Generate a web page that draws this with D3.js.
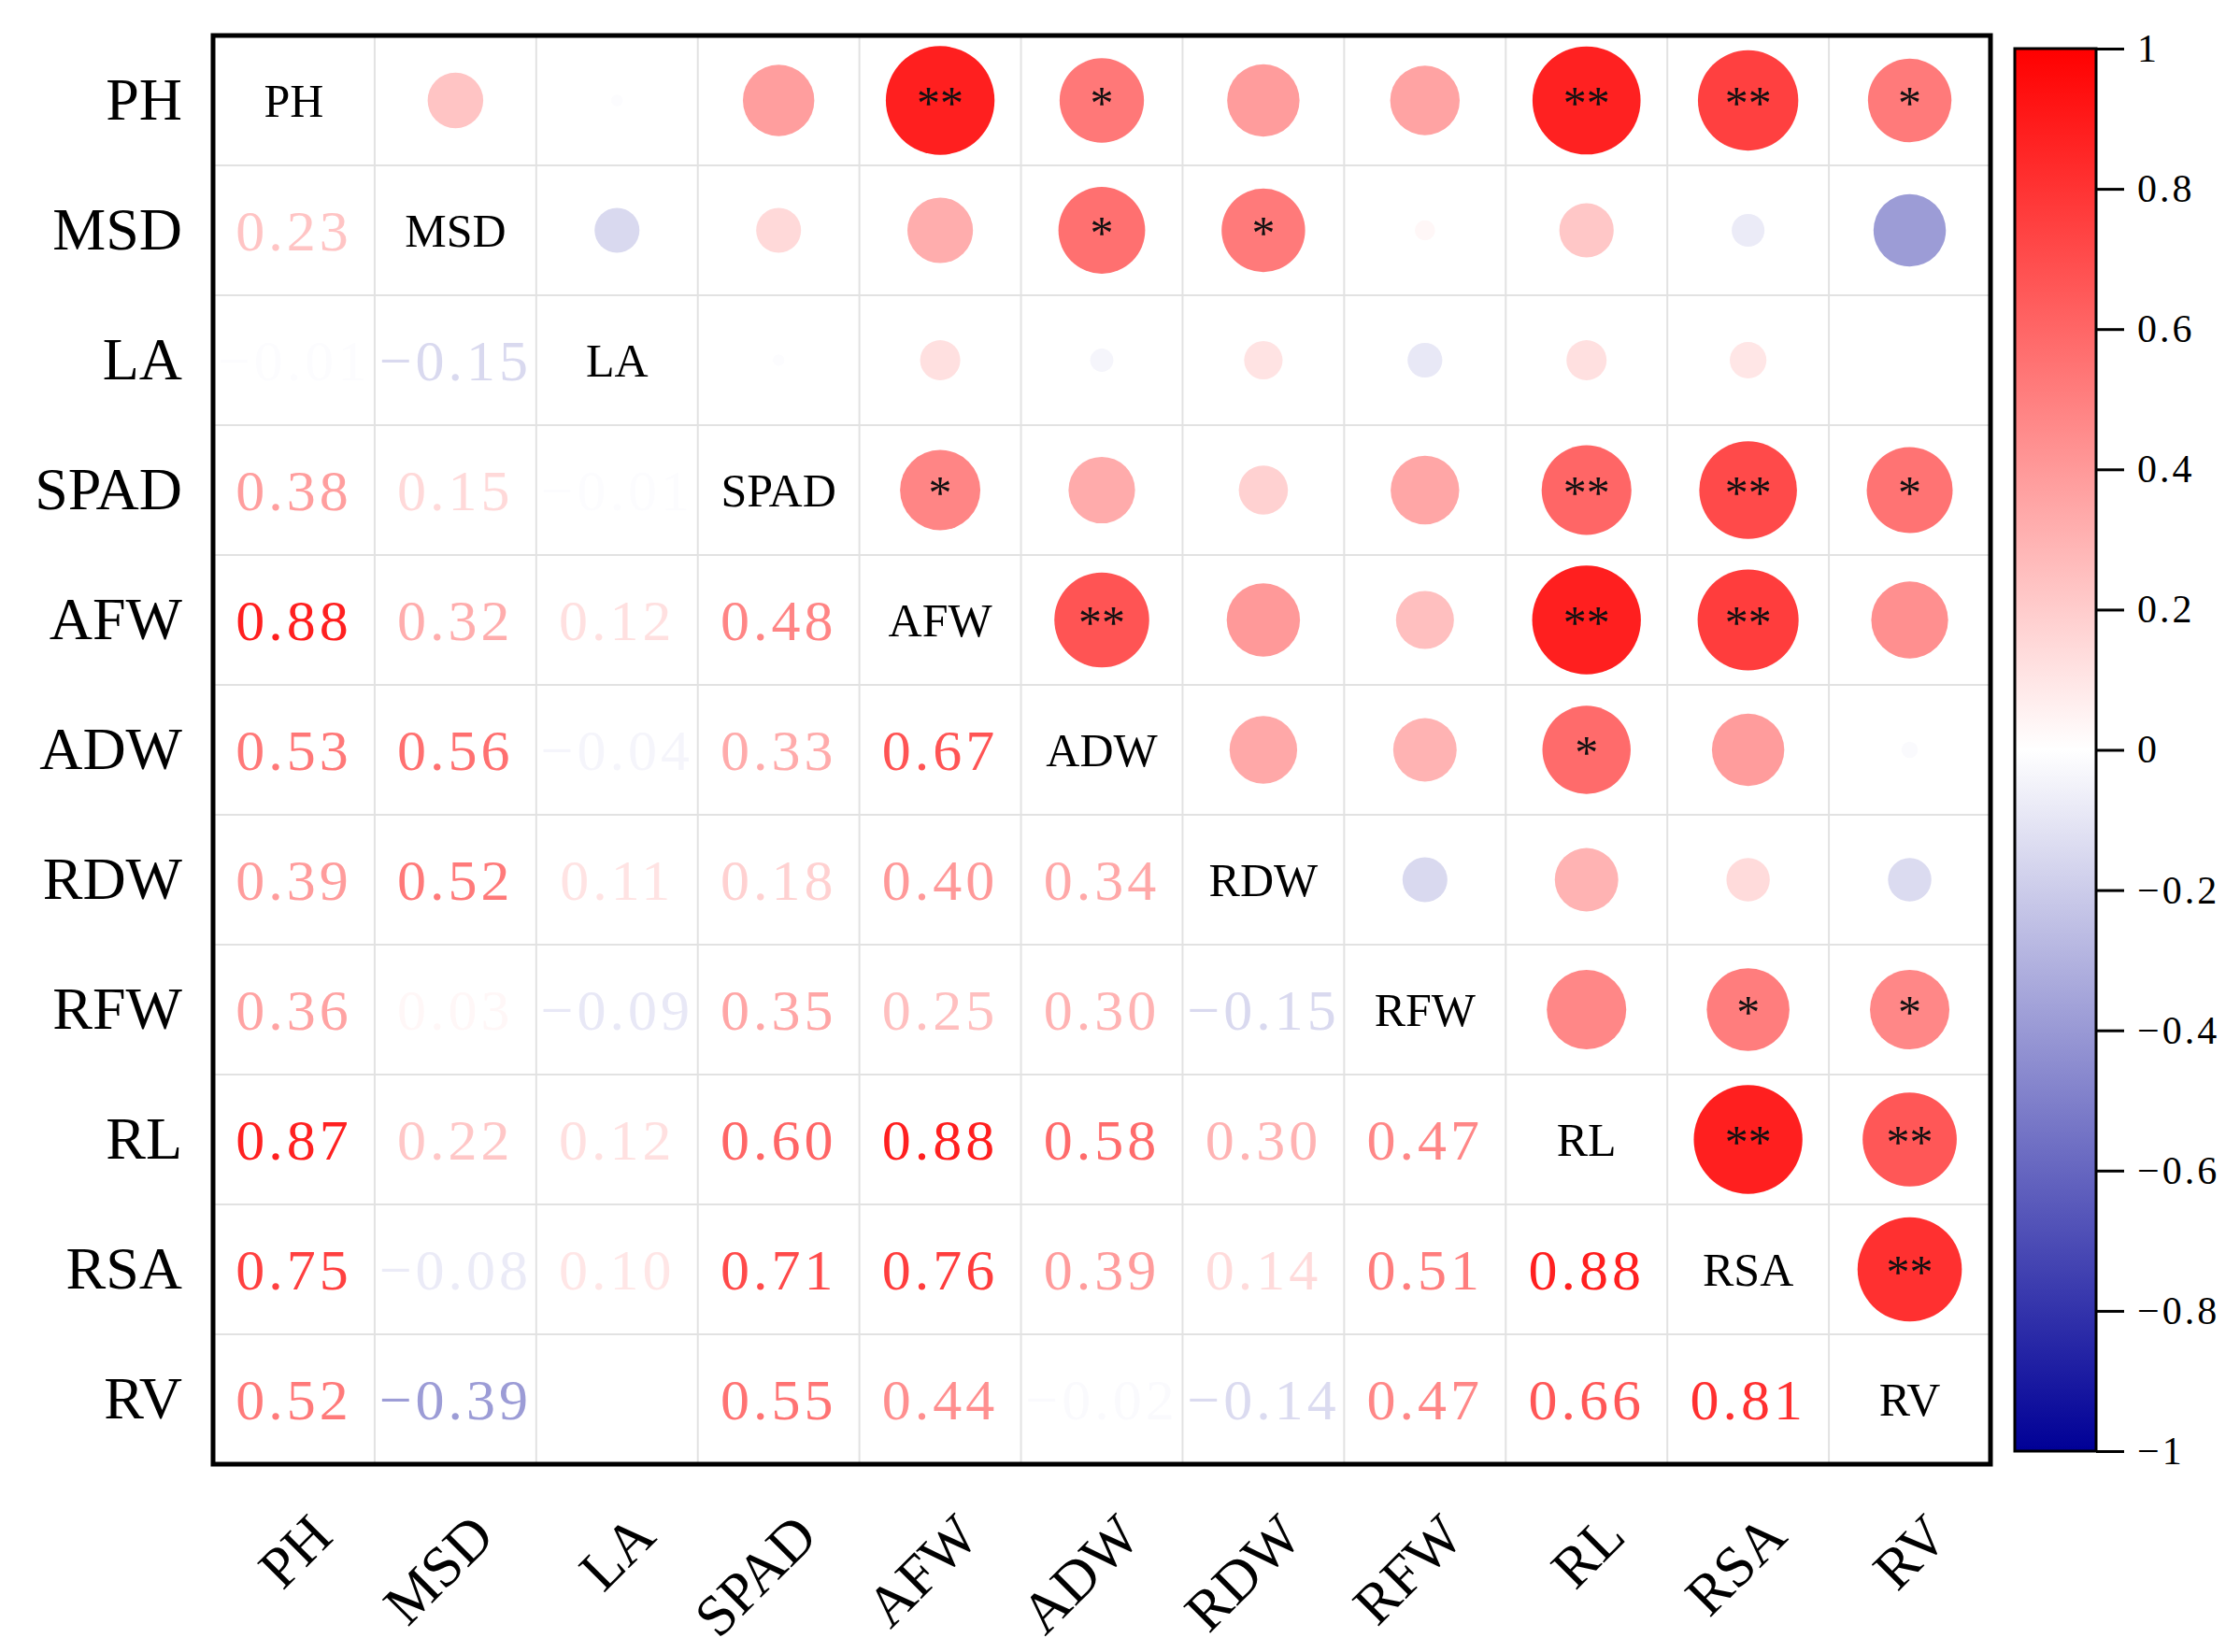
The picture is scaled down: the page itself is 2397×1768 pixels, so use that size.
<!DOCTYPE html>
<html>
<head>
<meta charset="utf-8">
<script src="https://cdn.jsdelivr.net/npm/d3@7"></script>
<style>
  body { margin: 0; background: #fff; }
  text { font-family: "Liberation Serif", "Times New Roman", serif; }
</style>
</head>
<body>
<div id="chart"></div>
<script>
// correlation matrix chart: circles in upper triangle, numbers in lower

var vars = ["PH", "MSD", "LA", "SPAD", "AFW", "ADW", "RDW", "RFW", "RL", "RSA", "RV"];

// lower triangle, row i holds r(i, j) for j < i
var corrRows = [
  [],
  [0.23],
  [-0.01, -0.15],
  [0.38, 0.15, -0.01],
  [0.88, 0.32, 0.12, 0.48],
  [0.53, 0.56, -0.04, 0.33, 0.67],
  [0.39, 0.52, 0.11, 0.18, 0.40, 0.34],
  [0.36, 0.03, -0.09, 0.35, 0.25, 0.30, -0.15],
  [0.87, 0.22, 0.12, 0.60, 0.88, 0.58, 0.30, 0.47],
  [0.75, -0.08, 0.10, 0.71, 0.76, 0.39, 0.14, 0.51, 0.88],
  [0.52, -0.39, 0.00, 0.55, 0.44, -0.02, -0.14, 0.47, 0.66, 0.81]
];

// significance marks shown on the circles
var sigPairs = [
  ["PH", "AFW", "**"], ["PH", "ADW", "*"], ["PH", "RL", "**"], ["PH", "RSA", "**"], ["PH", "RV", "*"],
  ["MSD", "ADW", "*"], ["MSD", "RDW", "*"],
  ["SPAD", "AFW", "*"], ["SPAD", "RL", "**"], ["SPAD", "RSA", "**"], ["SPAD", "RV", "*"],
  ["AFW", "ADW", "**"], ["AFW", "RL", "**"], ["AFW", "RSA", "**"],
  ["ADW", "RL", "*"],
  ["RFW", "RSA", "*"], ["RFW", "RV", "*"],
  ["RL", "RSA", "**"], ["RL", "RV", "**"],
  ["RSA", "RV", "**"]
];

var colorTicks = [1, 0.8, 0.6, 0.4, 0.2, 0, -0.2, -0.4, -0.6, -0.8, -1];

var width = 2397, height = 1768;
var plot = {left: 228, right: 2130, top: 38, bottom: 1567};
var bar = {left: 2156, right: 2243, top: 52, bottom: 1553};
var serif = "Liberation Serif";

var svg = d3.select("#chart").append("svg")
  .attr("width", width)
  .attr("height", height);

var x = d3.scaleBand().domain(vars).range([plot.left, plot.right]);
var y = d3.scaleBand().domain(vars).range([plot.top, plot.bottom]);
var color = d3.scaleLinear().domain([-1, 0, 1]).range(["rgb(0,0,150)", "#ffffff", "#ff0000"]);
var radius = d3.scaleSqrt().domain([0, 1]).range([0, 62]);

var sigMap = new Map();
sigPairs.forEach(function(p) { sigMap.set(p[0] + "|" + p[1], p[2]); });

// build cell lists from lower triangle (matrix is symmetric)
var lower = [], upper = [];
corrRows.forEach(function(row, i) {
  row.forEach(function(r, j) {
    lower.push({row: vars[i], col: vars[j], r: r});
    upper.push({row: vars[j], col: vars[i], r: r, sig: sigMap.get(vars[j] + "|" + vars[i]) || ""});
  });
});

// grid
var grid = svg.append("g").attr("class", "grid");
grid.selectAll("line.v")
  .data(vars.slice(1))
  .enter().append("line")
  .attr("x1", function(d) { return x(d); })
  .attr("x2", function(d) { return x(d); })
  .attr("y1", plot.top).attr("y2", plot.bottom)
  .attr("stroke", "#e2e2e2").attr("stroke-width", 2);
grid.selectAll("line.h")
  .data(vars.slice(1))
  .enter().append("line")
  .attr("y1", function(d) { return y(d); })
  .attr("y2", function(d) { return y(d); })
  .attr("x1", plot.left).attr("x2", plot.right)
  .attr("stroke", "#e2e2e2").attr("stroke-width", 2);

// circles (upper)
svg.append("g").selectAll("circle")
  .data(upper)
  .enter().append("circle")
  .attr("cx", function(d) { return x(d.col) + x.bandwidth() / 2; })
  .attr("cy", function(d) { return y(d.row) + y.bandwidth() / 2; })
  .attr("r", function(d) { return radius(Math.abs(d.r)); })
  .attr("fill", function(d) { return color(d.r); });

svg.append("g").selectAll("text")
  .data(upper.filter(function(d) { return d.sig; }))
  .enter().append("text")
  .attr("x", function(d) { return x(d.col) + x.bandwidth() / 2; })
  .attr("y", function(d) { return y(d.row) + y.bandwidth() / 2 + 19; })
  .attr("text-anchor", "middle")
  .attr("font-family", serif)
  .attr("font-size", 50)
  .attr("fill", "#111")
  .text(function(d) { return d.sig; });

// numbers (lower)
svg.append("g").selectAll("text")
  .data(lower)
  .enter().append("text")
  .attr("x", function(d) { return x(d.col) + x.bandwidth() / 2; })
  .attr("y", function(d) { return y(d.row) + y.bandwidth() / 2; })
  .attr("dy", "0.35em")
  .attr("text-anchor", "middle")
  .attr("font-family", serif)
  .attr("font-size", 62)
  .attr("letter-spacing", 4)
  .attr("fill", function(d) { return color(d.r); })
  .text(function(d) { return d3.format(".2f")(d.r); });

// diagonal names
svg.append("g").selectAll("text")
  .data(vars)
  .enter().append("text")
  .attr("x", function(d) { return x(d) + x.bandwidth() / 2; })
  .attr("y", function(d) { return y(d) + y.bandwidth() / 2; })
  .attr("dy", "0.35em")
  .attr("text-anchor", "middle")
  .attr("font-family", serif)
  .attr("font-size", 50)
  .attr("fill", "#000")
  .text(function(d) { return d; });

// frame
svg.append("rect")
  .attr("x", plot.left).attr("y", plot.top)
  .attr("width", plot.right - plot.left).attr("height", plot.bottom - plot.top)
  .attr("fill", "none").attr("stroke", "#000").attr("stroke-width", 5);

// row labels
var yAxis = svg.append("g")
  .attr("transform", "translate(" + plot.left + ",0)")
  .call(d3.axisLeft(y).tickSize(0).tickPadding(33));
yAxis.select(".domain").remove();
yAxis.selectAll("text")
  .attr("font-size", 64)
  .attr("font-family", serif)
  .attr("fill", "#000");

// column labels
var xAxis = svg.append("g")
  .attr("transform", "translate(0," + plot.bottom + ")")
  .call(d3.axisBottom(x).tickSize(0));
xAxis.select(".domain").remove();
xAxis.selectAll("text")
  .attr("x", 0).attr("y", 0).attr("dy", 0)
  .attr("transform", "translate(44,80) rotate(-45)")
  .attr("text-anchor", "end")
  .attr("font-size", 62)
  .attr("font-family", serif)
  .attr("fill", "#000");

// colour bar
var defs = svg.append("defs");
var grad = defs.append("linearGradient")
  .attr("id", "cbar")
  .attr("x1", 0).attr("y1", 0).attr("x2", 0).attr("y2", 1);
grad.selectAll("stop")
  .data([1, 0, -1])
  .enter().append("stop")
  .attr("offset", function(d) { return (1 - d) / 2; })
  .attr("stop-color", function(d) { return color(d); });

svg.append("rect")
  .attr("x", bar.left).attr("y", bar.top)
  .attr("width", bar.right - bar.left).attr("height", bar.bottom - bar.top)
  .attr("fill", "url(#cbar)")
  .attr("stroke", "#000").attr("stroke-width", 3);

var cScale = d3.scaleLinear().domain([1, -1]).range([bar.top, bar.bottom]);
var cAxis = svg.append("g")
  .attr("transform", "translate(" + bar.right + ",0)")
  .call(d3.axisRight(cScale)
    .tickValues(colorTicks)
    .tickSize(30)
    .tickPadding(14)
    .tickFormat(d3.format("~g")));
cAxis.select(".domain").remove();
cAxis.selectAll("line").attr("stroke", "#000").attr("stroke-width", 3);
cAxis.selectAll("text")
  .attr("font-size", 42)
  .attr("letter-spacing", 3)
  .attr("font-family", serif)
  .attr("fill", "#000");
</script>
</body>
</html>
